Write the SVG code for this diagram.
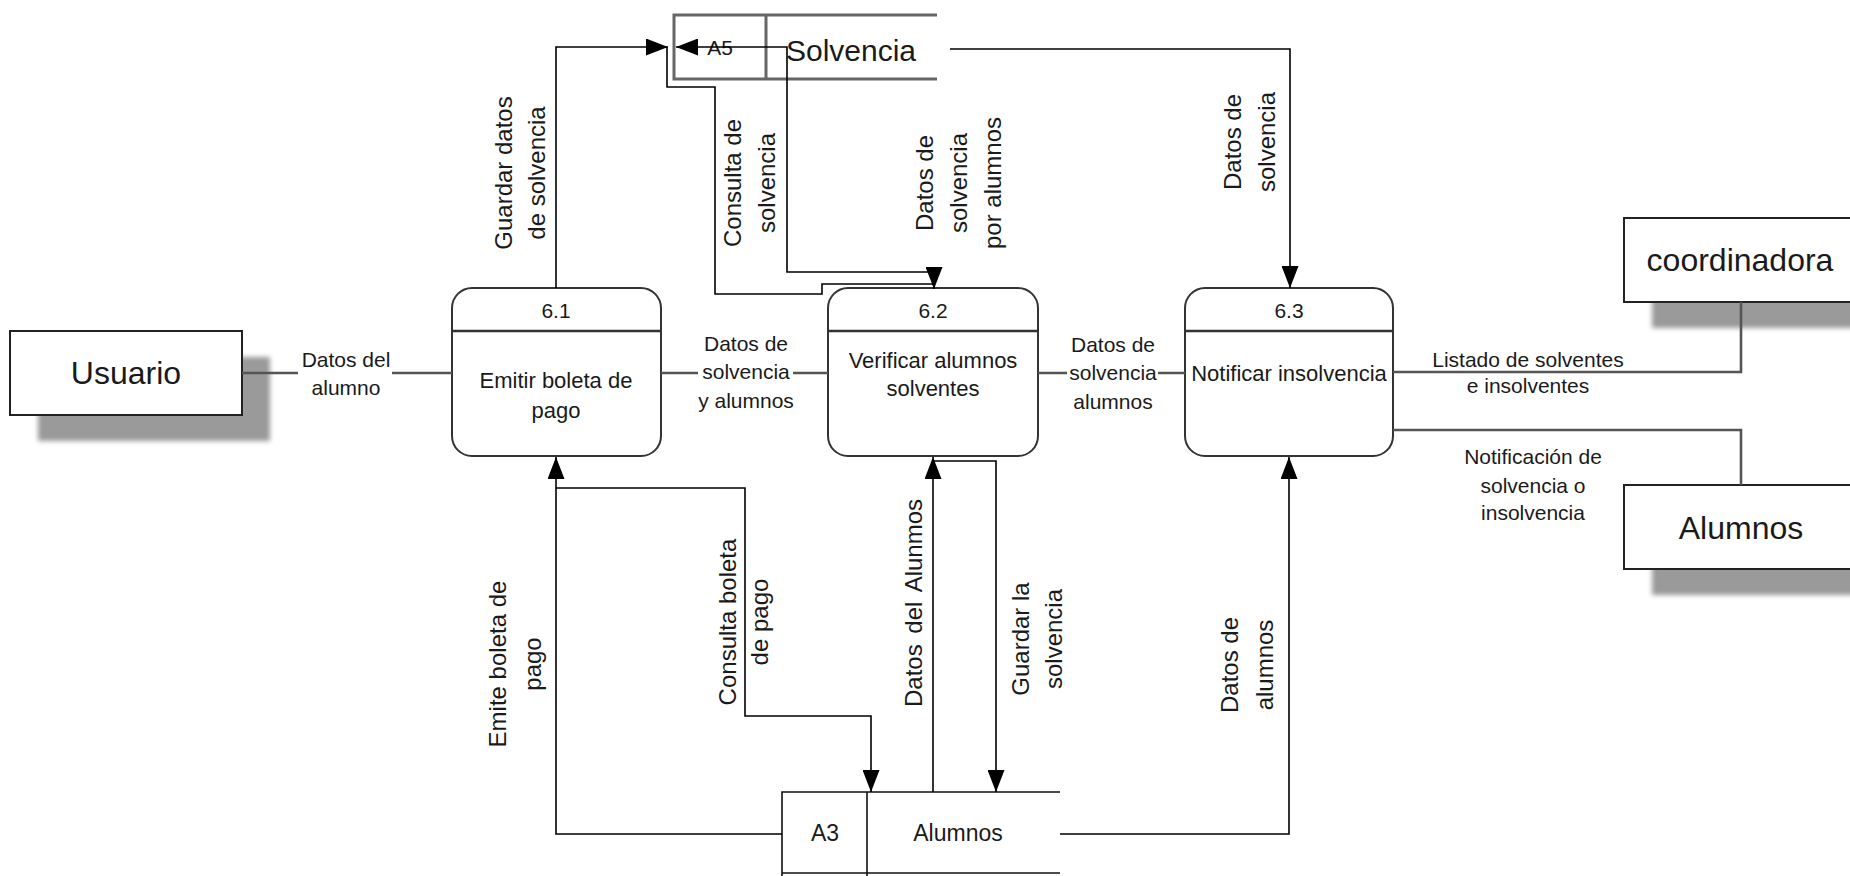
<svg xmlns="http://www.w3.org/2000/svg" width="1850" height="876" viewBox="0 0 1850 876">
  <defs>
    <marker id="arrow" viewBox="0 0 22 17" refX="22" refY="8.5" markerWidth="22" markerHeight="17" markerUnits="userSpaceOnUse" orient="auto-start-reverse">
      <path d="M0,0 L22,8.5 L0,17 z" fill="#000"/>
    </marker>
    <filter id="soft" x="-10%" y="-10%" width="120%" height="120%">
      <feGaussianBlur stdDeviation="2.5"/>
    </filter>
  </defs>
  <style>
    text { font-family: "Liberation Sans", Arial, sans-serif; fill: #1a1a1a; }
    .entity { fill: #fff; stroke: #222; stroke-width: 2; }
    .shadow { fill: #9a9a9a; filter: url(#soft); }
    .ename { font-size: 32px; text-anchor: middle; }
    .proc { fill: #fff; stroke: #333; stroke-width: 2; }
    .pdiv { stroke: #333; stroke-width: 2.5; }
    .pid { font-size: 21px; text-anchor: middle; }
    .ptext { font-size: 22px; text-anchor: middle; }
    .store-a5 { fill: none; stroke: #666; stroke-width: 3; }
    .store-a3 { fill: none; stroke: #111; stroke-width: 1.6; }
    .flow { fill: none; stroke: #000; stroke-width: 1.6; }
    .flow-arrow { marker-end: url(#arrow); }
    .link { fill: none; stroke: #555; stroke-width: 2.6; }
    .lbl { font-size: 21px; text-anchor: middle; }
    .vlbl { font-size: 24px; text-anchor: middle; }
  </style>

  <rect width="1850" height="876" fill="#fff"/>

  <!-- External entities -->
  <g id="usuario">
    <rect class="shadow" x="38" y="357" width="232" height="84"/>
    <rect class="entity" x="10" y="331" width="232" height="84"/>
    <text class="ename" x="126" y="384">Usuario</text>
  </g>
  <g id="coordinadora">
    <rect class="shadow" x="1652" y="244" width="232" height="84"/>
    <rect class="entity" x="1624" y="218" width="232" height="84"/>
    <text class="ename" x="1740" y="271">coordinadora</text>
  </g>
  <g id="alumnos-entity">
    <rect class="shadow" x="1652" y="511" width="232" height="84"/>
    <rect class="entity" x="1624" y="485" width="232" height="84"/>
    <text class="ename" x="1741" y="539">Alumnos</text>
  </g>

  <!-- Processes -->
  <g id="p61">
    <rect class="proc" x="452" y="288" width="209" height="168" rx="20"/>
    <line class="pdiv" x1="452" y1="331" x2="661" y2="331"/>
    <text class="pid" x="556" y="318">6.1</text>
    <text class="ptext" x="556" y="388">Emitir boleta de</text>
    <text class="ptext" x="556" y="418">pago</text>
  </g>
  <g id="p62">
    <rect class="proc" x="828" y="288" width="210" height="168" rx="20"/>
    <line class="pdiv" x1="828" y1="331" x2="1038" y2="331"/>
    <text class="pid" x="933" y="318">6.2</text>
    <text class="ptext" x="933" y="368">Verificar alumnos</text>
    <text class="ptext" x="933" y="396">solventes</text>
  </g>
  <g id="p63">
    <rect class="proc" x="1185" y="288" width="208" height="168" rx="20"/>
    <line class="pdiv" x1="1185" y1="331" x2="1393" y2="331"/>
    <text class="pid" x="1289" y="318">6.3</text>
    <text class="ptext" x="1289" y="381">Notificar insolvencia</text>
  </g>

  <!-- Data stores -->
  <g id="a5-solvencia">
    <path class="store-a5" d="M937,15 H674 V79 H937 M766,15 V79"/>
    <text x="720" y="55" font-size="21" text-anchor="middle">A5</text>
    <text x="851" y="61" font-size="30" text-anchor="middle">Solvencia</text>
  </g>
  <g id="a3-alumnos">
    <path class="store-a3" d="M1060,792 H782 V876 M867,792 V876 M782,873 H1060"/>
    <text x="825" y="841" font-size="23" text-anchor="middle">A3</text>
    <text x="958" y="841" font-size="23" text-anchor="middle">Alumnos</text>
  </g>

  <!-- Data flows -->
  <g id="connectors">
    <!-- Usuario to 6.1 -->
    <path class="link" d="M242,373 H298 M392,373 H452"/>
    <text class="lbl" x="346" y="367">Datos del</text>
    <text class="lbl" x="346" y="395">alumno</text>

    <!-- 6.1 to 6.2 -->
    <path class="link" d="M661,373 H698 M793,373 H828"/>
    <text class="lbl" x="746" y="351">Datos de</text>
    <text class="lbl" x="746" y="379">solvencia</text>
    <text class="lbl" x="746" y="408">y alumnos</text>

    <!-- 6.2 to 6.3 -->
    <path class="link" d="M1038,373 H1067 M1158,373 H1185"/>
    <text class="lbl" x="1113" y="352">Datos de</text>
    <text class="lbl" x="1113" y="380">solvencia</text>
    <text class="lbl" x="1113" y="409">alumnos</text>

    <!-- 6.3 to coordinadora -->
    <path class="link" d="M1393,372 H1741 V302"/>
    <text class="lbl" x="1528" y="367">Listado de solventes</text>
    <text class="lbl" x="1528" y="393">e insolventes</text>

    <!-- 6.3 to Alumnos -->
    <path class="link" d="M1393,430 H1741 V485"/>
    <text class="lbl" x="1533" y="464">Notificación de</text>
    <text class="lbl" x="1533" y="493">solvencia o</text>
    <text class="lbl" x="1533" y="520">insolvencia</text>

    <!-- 6.1 to A5 -->
    <path class="flow flow-arrow" d="M556,288 V47 H668"/>
    <text class="vlbl" transform="translate(521,173) rotate(-90)"><tspan x="0" y="-9">Guardar datos</tspan><tspan x="0" y="24">de solvencia</tspan></text>

    <!-- 6.2 to A5 -->
    <path class="flow" d="M667,47 V87 H715 V294 H822 V284 H934"/>
    <text class="vlbl" transform="translate(750,183) rotate(-90)"><tspan x="0" y="-9">Consulta de</tspan><tspan x="0" y="25">solvencia</tspan></text>

    <!-- A5 to 6.2 -->
    <path class="flow" d="M676,47 H787 V272 H934 V289" marker-start="url(#arrow)" marker-end="url(#arrow)"/>
    <text class="vlbl" transform="translate(959,183) rotate(-90)"><tspan x="0" y="-26">Datos de</tspan><tspan x="0" y="8">solvencia</tspan><tspan x="0" y="42">por alumnos</tspan></text>

    <!-- A5 to 6.3 -->
    <path class="flow flow-arrow" d="M950,49 H1290 V288"/>
    <text class="vlbl" transform="translate(1250,142) rotate(-90)"><tspan x="0" y="-9">Datos de</tspan><tspan x="0" y="25">solvencia</tspan></text>

    <!-- A3 to 6.1 -->
    <path class="flow flow-arrow" d="M782,834 H556 V457"/>
    <text class="vlbl" transform="translate(515,664) rotate(-90)"><tspan x="0" y="-9">Emite boleta de</tspan><tspan x="0" y="26">pago</tspan></text>

    <!-- 6.1 to A3 -->
    <path class="flow flow-arrow" d="M556,488 H745 V716 H871 V792"/>
    <text class="vlbl" transform="translate(744,622) rotate(-90)"><tspan x="0" y="-8">Consulta boleta</tspan><tspan x="0" y="24">de pago</tspan></text>

    <!-- A3 to 6.2 -->
    <path class="flow flow-arrow" d="M933,792 V457"/>
    <text class="vlbl" font-size="26" word-spacing="4" transform="translate(913,603) rotate(-90)"><tspan x="0" y="9">Datos del Alunmos</tspan></text>

    <!-- 6.2 to A3 -->
    <path class="flow flow-arrow" d="M933,461 H996 V792"/>
    <text class="vlbl" transform="translate(1037,639) rotate(-90)"><tspan x="0" y="-8">Guardar la</tspan><tspan x="0" y="25">solvencia</tspan></text>

    <!-- A3 to 6.3 -->
    <path class="flow flow-arrow" d="M1060,834 H1289 V457"/>
    <text class="vlbl" transform="translate(1247,665) rotate(-90)"><tspan x="0" y="-9">Datos de</tspan><tspan x="0" y="26">alumnos</tspan></text>
  </g>
</svg>
